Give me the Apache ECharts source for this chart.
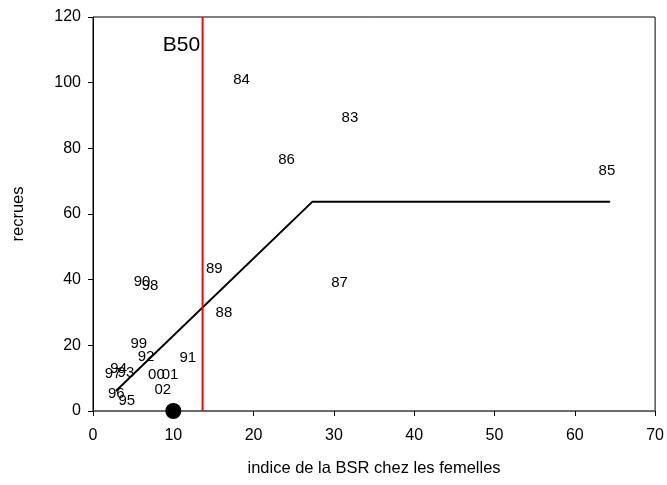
<!DOCTYPE html>
<html>
<head>
<meta charset="utf-8">
<script src="https://cdn.jsdelivr.net/npm/echarts@6/dist/echarts.min.js"></script>
<style>html,body{margin:0;padding:0;background:#fff}#c{width:667px;height:485px}</style>
</head>
<body>
<div id="c"></div>
<script>
var years = ['84','83','86','85','89','87','88','90','98','99','92','91','94','97','93','00','01','02','96','95'];
var ssb =   [18.5, 32.0, 24.1, 64.0, 15.1, 30.7, 16.3, 6.1, 7.1, 5.7, 6.6, 11.8, 3.2, 2.5, 4.1, 7.9, 9.6, 8.7, 2.9, 4.2];
var recruits = [100.8, 89.2, 76.4, 73.1, 43.3, 39.0, 29.8, 39.3, 38.1, 20.4, 16.4, 16.1, 12.8, 11.3, 11.6, 11.0, 11.0, 6.4, 5.2, 3.0];
var stickX = [2.85, 27.3, 64.4];
var stickY = [6.1, 63.7, 63.7];
var b50 = 13.65;
var dotPoint = [10, 0];
var xTicks = {min: 0, max: 70, interval: 10};
var yTicks = {min: 0, max: 120, interval: 20};

var chart = echarts.init(document.getElementById('c'));
var font = 'Liberation Sans, Arial, sans-serif';
chart.setOption({
  animation: false,
  grid: {left: 93, right: 10, top: 17, bottom: 74, show: true, borderColor: '#000', borderWidth: 1, backgroundColor: 'transparent'},
  xAxis: {
    type: 'value', min: xTicks.min, max: xTicks.max, interval: xTicks.interval,
    name: 'indice de la BSR chez les femelles', nameLocation: 'middle', nameGap: 49,
    nameTextStyle: {fontFamily: font, fontSize: 16.5, color: '#000'},
    axisLine: {lineStyle: {color: '#666', width: 1.5}},
    axisTick: {show: true, length: 5, lineStyle: {color: '#000'}},
    axisLabel: {fontFamily: font, fontSize: 16, color: '#000', margin: 17},
    splitLine: {show: false}
  },
  yAxis: {
    type: 'value', min: yTicks.min, max: yTicks.max, interval: yTicks.interval,
    name: 'recrues', nameLocation: 'middle', nameGap: 66,
    nameTextStyle: {fontFamily: font, fontSize: 16.5, color: '#000'},
    axisLine: {lineStyle: {color: '#000', width: 1}},
    axisTick: {show: true, length: 5, lineStyle: {color: '#000'}},
    axisLabel: {fontFamily: font, fontSize: 16, color: '#000', margin: 12},
    splitLine: {show: false}
  },
  series: [
    {
      type: 'line', data: stickX.map(function(x, i){return [x, stickY[i]];}),
      symbol: 'none', lineStyle: {color: '#000', width: 2}, z: 3
    },
    {
      type: 'line', data: [[b50, yTicks.min], [b50, yTicks.max]],
      symbol: 'none', lineStyle: {color: '#ff0000', width: 2}, z: 4
    },
    {
      type: 'scatter', data: [dotPoint], symbolSize: 16,
      itemStyle: {color: '#000', opacity: 1}, z: 5
    },
    {
      type: 'scatter', symbolSize: 1, itemStyle: {color: 'rgba(0,0,0,0)', opacity: 1},
      data: ssb.map(function(x, i){return {value: [x, recruits[i]], name: years[i]};}),
      label: {show: true, position: 'inside', formatter: '{b}', fontFamily: font, fontSize: 15, color: '#000', textBorderWidth: 0},
      emphasis: {disabled: true},
      z: 6
    },
    {
      type: 'scatter', symbolSize: 1, itemStyle: {color: 'rgba(0,0,0,0)', opacity: 1},
      data: [{value: [b50, 111.5], name: 'B50'}],
      label: {show: true, position: 'left', distance: 2, formatter: '{b}', fontFamily: font, fontSize: 21, color: '#000', textBorderWidth: 0},
      emphasis: {disabled: true},
      z: 6
    }
  ]
});
</script>
</body>
</html>
